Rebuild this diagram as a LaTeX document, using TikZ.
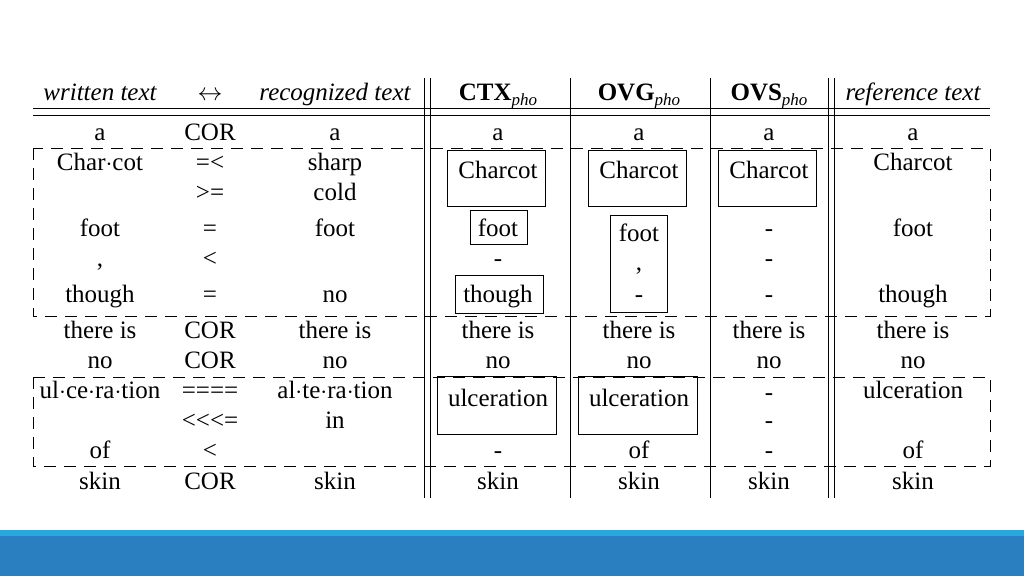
\documentclass[tikz,border=0pt]{standalone}
\usepackage{fontspec}
\setmainfont{Liberation Serif}
\begin{document}
\begin{tikzpicture}[x=1pt,y=-1pt,
        cell/.style={
            inner sep=0pt,
            anchor=base,
            yshift=-8pt,
            font=\fontsize{25}{27}\selectfont,
        },
        head/.style={
            cell,
            font=\fontsize{25}{27}\selectfont\itshape,
        },
        hbold/.style={
            cell,
            font=\fontsize{25}{27}\selectfont\bfseries,
        },
        frame/.style={
            draw,
            line width=1pt,
        },
        group/.style={
            draw,
            dashed,
            dash pattern=on 12pt off 8pt,
            line width=1pt,
        },
    ]
    \useasboundingbox (0,0) rectangle (1024,576);

    % bottom band
    \fill [fill={rgb,255:red,42;green,127;blue,193}] (0,532) rectangle (1024,576);
    \fill [fill={rgb,255:red,41;green,168;blue,224}] (0,530) rectangle (1024,536);

    % rules
    \draw [line width=1pt] (33,108) -- (990,108);
    \draw [line width=1pt] (33,115) -- (990,115);
    \draw [line width=1pt] (424,78) -- (424,498);
    \draw [line width=1pt] (430,78) -- (430,498);
    \draw [line width=1pt] (828,78) -- (828,498);
    \draw [line width=1pt] (834,78) -- (834,498);
    \draw [line width=1pt] (570,78) -- (570,498);
    \draw [line width=1pt] (710,78) -- (710,498);

    % dashed groups
    \draw [group] (33,148) rectangle (990,316);
    \draw [group] (33,377) rectangle (990,466);

    % header
    \node (hw) at (100,92) [head] {written text};
    \node (ha) at (210,92) [cell] {$\leftrightarrow$};
    \node (hr) at (335,92) [head] {recognized text};
    \node (hc) at (498,92) [hbold] {CTX\textmd{\textit{\fontsize{17}{18}\selectfont\raisebox{-5pt}{pho}}}};
    \node (hg) at (639,92) [hbold] {OVG\textmd{\textit{\fontsize{17}{18}\selectfont\raisebox{-5pt}{pho}}}};
    \node (hs) at (769,92) [hbold] {OVS\textmd{\textit{\fontsize{17}{18}\selectfont\raisebox{-5pt}{pho}}}};
    \node (hf) at (913,92) [head] {reference text};

    % written / op / recognized
    \foreach \y/\w/\o/\r [count=\i] in {
        132/a/COR/a,
        162/Char$\cdot$cot/{=<}/sharp,
        192/{}/{>=}/cold,
        228/foot/{=}/foot,
        258/{,}/{<}/{},
        294/though/{=}/no,
        330/there is/COR/there is,
        360/no/COR/no,
        390/ul$\cdot$ce$\cdot$ra$\cdot$tion/{====}/al$\cdot$te$\cdot$ra$\cdot$tion,
        420/{}/{{<}{<}{<}=}/in,
        450/of/{<}/{},
        481/skin/COR/skin} {
        \node (w\i) at (100,\y) [cell] {\w};
        \node (o\i) at (210,\y) [cell] {\o};
        \node (r\i) at (335,\y) [cell] {\r};
    }

    % CTX
    \node (c1) at (498,132) [cell] {a};
    \node (c2) at (498,170) [cell] {Charcot};
    \node (c4) at (498,228) [cell] {foot};
    \node (c5) at (498,258) [cell] {-};
    \node (c6) at (498,294) [cell] {though};
    \node (c7) at (498,330) [cell] {there is};
    \node (c8) at (498,360) [cell] {no};
    \node (c9) at (498,398) [cell] {ulceration};
    \node (c11) at (498,450) [cell] {-};
    \node (c12) at (498,481) [cell] {skin};
    \draw [frame] (447,150) rectangle (545,206);
    \draw [frame] (470,210) rectangle (527,244);
    \draw [frame] (455,275) rectangle (543,313);
    \draw [frame] (437,376) rectangle (556,434);

    % OVG
    \node (g1) at (639,132) [cell] {a};
    \node (g2) at (639,170) [cell] {Charcot};
    \node (g4) at (639,233) [cell] {foot};
    \node (g5) at (639,262) [cell] {,};
    \node (g6) at (639,294) [cell] {-};
    \node (g7) at (639,330) [cell] {there is};
    \node (g8) at (639,360) [cell] {no};
    \node (g9) at (639,398) [cell] {ulceration};
    \node (g11) at (639,450) [cell] {of};
    \node (g12) at (639,481) [cell] {skin};
    \draw [frame] (588,150) rectangle (686,206);
    \draw [frame] (610,215) rectangle (667,312);
    \draw [frame] (578,376) rectangle (697,434);

    % OVS
    \node (s1) at (769,132) [cell] {a};
    \node (s2) at (769,170) [cell] {Charcot};
    \foreach \y/\t [count=\i] in {228/-,258/-,294/-,330/there is,360/no,392/-,420/-,450/-,481/skin}
        \node (s\i x) at (769,\y) [cell] {\t};
    \draw [frame] (718,150) rectangle (816,206);

    % reference
    \foreach \y/\t [count=\i] in {132/a,162/Charcot,228/foot,294/though,330/there is,360/no,390/ulceration,450/of,481/skin}
        \node (f\i) at (913,\y) [cell] {\t};

\end{tikzpicture}
\end{document}
